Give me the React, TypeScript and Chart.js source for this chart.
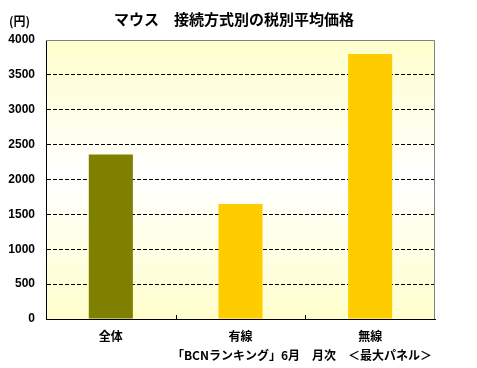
import React, { useEffect, useRef } from 'react';
import { Chart, registerables } from 'chart.js';

Chart.register(...registerables);

const categories = ['全体', '有線', '無線'];
const values = [2360, 1650, 3800];
const barColors = ['#808000', '#FFCC00', '#FFCC00'];
const yMin = 0;
const yMax = 4000;
const yStep = 500;
const titleText = 'マウス　接続方式別の税別平均価格';
const unitText = '(円)';
const footerText = '「BCNランキング」6月　月次　＜最大パネル＞';

const CJK = '"Noto Sans CJK JP", "Noto Sans", sans-serif';
const NUM = '"Liberation Sans", Arial, sans-serif';

const decorPlugin = {
  id: 'decor',
  beforeDraw(chart: any) {
    const { ctx, chartArea: a } = chart;
    const g = ctx.createLinearGradient(0, a.top, 0, a.bottom);
    g.addColorStop(0, '#FFFFCC');
    g.addColorStop(0.5, '#FFFFFF');
    g.addColorStop(1, '#FFFFCC');
    ctx.save();
    ctx.fillStyle = g;
    ctx.fillRect(a.left, a.top, a.right - a.left, a.bottom - a.top);
    ctx.restore();
  },
  afterDraw(chart: any) {
    const { ctx, chartArea: a } = chart;
    const xs = chart.scales.x;
    ctx.save();
    ctx.strokeStyle = '#808080';
    ctx.lineWidth = 1;
    ctx.beginPath();
    ctx.moveTo(a.left, a.top + 0.5);
    ctx.lineTo(a.right - 0.5, a.top + 0.5);
    ctx.lineTo(a.right - 0.5, a.bottom);
    ctx.stroke();
    ctx.strokeStyle = '#000';
    for (let i = 0; i < categories.length - 1; i++) {
      const x = Math.round((xs.getPixelForValue(i) + xs.getPixelForValue(i + 1)) / 2) + 0.5;
      ctx.beginPath();
      ctx.moveTo(x, a.bottom - 4);
      ctx.lineTo(x, a.bottom);
      ctx.stroke();
    }
    ctx.fillStyle = '#000';
    ctx.textBaseline = 'middle';
    ctx.textAlign = 'center';
    ctx.font = `bold 15px ${CJK}`;
    ctx.fillText(titleText, 234, 19);
    ctx.textAlign = 'left';
    ctx.font = `bold 12px ${CJK}`;
    ctx.fillText(unitText, 9, 21);
    ctx.textAlign = 'center';
    ctx.font = `bold 12px ${CJK}`;
    ctx.fillText(footerText, 302, 355);
    ctx.restore();
  },
};

export default function App() {
  const ref = useRef<HTMLCanvasElement>(null);
  useEffect(() => {
    document.body.style.margin = '0';
    const chart = new Chart(ref.current as HTMLCanvasElement, {
      type: 'bar',
      data: {
        labels: categories,
        datasets: [
          {
            data: values,
            backgroundColor: barColors,
            borderWidth: 0,
            barPercentage: 0.34,
            categoryPercentage: 1,
          },
        ],
      },
      options: {
        responsive: false,
        animation: false,
        devicePixelRatio: 1,
        layout: { padding: { top: 40, right: 42, bottom: 0, left: 0 } },
        plugins: { legend: { display: false }, title: { display: false }, tooltip: { enabled: false } },
        scales: {
          x: {
            grid: { display: false, drawTicks: false },
            border: { color: '#000', width: 1 },
            ticks: { color: '#000', padding: 10, font: { family: CJK, size: 12, weight: 'bold' } },
            afterFit: (s: any) => { s.height = 49; },
          },
          y: {
            min: yMin,
            max: yMax,
            ticks: {
              stepSize: yStep,
              color: '#000',
              padding: 11,
              font: { family: NUM, size: 12, weight: 'bold' },
              callback: (v: any) => String(v),
            },
            grid: {
              drawTicks: false,
              tickLength: 0,
              lineWidth: 1,
              color: (c: any) => (c.tick && (c.tick.value === yMin || c.tick.value === yMax) ? 'rgba(0,0,0,0)' : '#000'),
            },
            border: { color: '#000', width: 1, dash: [4, 2] },
            afterFit: (s: any) => { s.width = 46; },
          },
        },
      },
      plugins: [decorPlugin],
    });
    return () => chart.destroy();
  }, []);
  return (
    <div style={{ width: 477, height: 368 }}>
      <canvas ref={ref} width={477} height={368} />
    </div>
  );
}
